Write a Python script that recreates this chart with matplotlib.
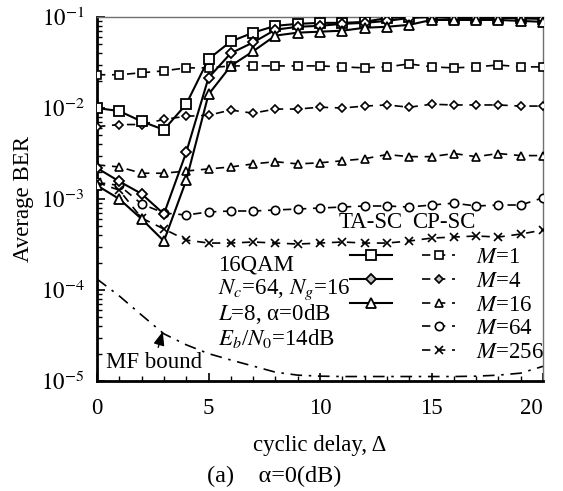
import matplotlib
matplotlib.use('Agg')
import matplotlib.pyplot as plt
from matplotlib.lines import Line2D
from matplotlib.ticker import FixedLocator, MultipleLocator, LogLocator, NullFormatter
import numpy as np

plt.rcParams['font.family'] = ['Liberation Serif', 'DejaVu Serif']
plt.rcParams['mathtext.fontset'] = 'stix'

# cyclic delay
delay = np.arange(0, 21)

# TA-SC (solid)
ta_m1 = [0.0100, 0.00925, 0.00712, 0.00577, 0.0110, 0.0345, 0.0538, 0.0673, 0.0800, 0.0841, 0.0862,
         0.0862, 0.0884, 0.0976, 0.100, 0.100, 0.098, 0.098, 0.098, 0.097, 0.096]
ta_m4 = [0.00219, 0.00156, 0.00114, 0.000684, 0.00325, 0.0215, 0.0400, 0.0525, 0.0725, 0.0781, 0.0800,
         0.0841, 0.0862, 0.0906, 0.0976, 0.100, 0.098, 0.098, 0.098, 0.097, 0.096]
ta_m16 = [0.00141, 0.00100, 0.000603, 0.000345, 0.00160, 0.0141, 0.0290, 0.0420, 0.0625, 0.0673, 0.0690,
          0.0707, 0.0762, 0.0781, 0.0820, 0.0928, 0.0928, 0.0928, 0.0928, 0.0906, 0.0884]

# CP-SC (dashed)
cp_m1 = [0.0232, 0.0232, 0.0244, 0.0256, 0.0276, 0.0276, 0.0290, 0.0290, 0.0290, 0.0290, 0.0290,
         0.0283, 0.0276, 0.0283, 0.0305, 0.0283, 0.0276, 0.0283, 0.0297, 0.0283, 0.0283]
cp_m4 = [0.00624, 0.00658, 0.00658, 0.00750, 0.00811, 0.00833, 0.00949, 0.00877, 0.00974, 0.00974, 0.0102,
         0.0100, 0.0105, 0.0108, 0.0102, 0.0110, 0.0108, 0.0108, 0.0108, 0.0105, 0.0105]
cp_m16 = [0.00237, 0.00225, 0.00192, 0.00192, 0.00203, 0.00214, 0.00225, 0.00243, 0.00257, 0.00243, 0.00250,
          0.00263, 0.00277, 0.00308, 0.00292, 0.00292, 0.00316, 0.00292, 0.00316, 0.00300, 0.00300]
cp_m64 = [0.00152, 0.00141, 0.000881, 0.000702, 0.000667, 0.000720, 0.000738, 0.000738, 0.000757, 0.000776,
          0.000796, 0.000816, 0.000838, 0.000838, 0.000816, 0.000859, 0.000900, 0.000838, 0.000859, 0.000859,
          0.00103]
cp_m256 = [0.00152, 0.00125, 0.000618, 0.000468, 0.000354, 0.000328, 0.000328, 0.000337, 0.000328, 0.000320,
           0.000328, 0.000337, 0.000328, 0.000328, 0.000345, 0.000372, 0.000382, 0.000392, 0.000382, 0.000412,
           0.000456]

# matched filter bound
mf_bound = [1.32e-4, 8.6e-5, 5.3e-5, 3.3e-5, 2.5e-5, 2.0e-5, 1.7e-5, 1.46e-5, 1.25e-5, 1.16e-5, 1.13e-5,
            1.12e-5, 1.12e-5, 1.12e-5, 1.12e-5, 1.12e-5, 1.12e-5, 1.13e-5, 1.16e-5, 1.22e-5, 1.45e-5]

m_labels = ['$M$=1', '$M$=4', '$M$=16', '$M$=64', '$M$=256']

W, H = 563, 491


def fpos(x, y):
    """pixel position -> figure fraction"""
    return x / W, 1 - y / H


fig = plt.figure(figsize=(W / 100, H / 100), dpi=100)
ax = fig.add_axes([97 / W, 1 - 381 / H, 446 / W, 364 / H])

FS = 16.5
FPX = FS * 100 / 72
ta_kw = dict(color='black', lw=1.5, mfc='white', mec='black', mew=1.3, zorder=4)
cp_kw = dict(color='black', lw=1.2, dashes=(5, 4), mfc='white', mec='black', mew=1.2, zorder=3)

ta_styles = [('s', 6.5), ('D', 5), ('^', 7)]
cp_styles = [('s', 6), ('D', 4), ('^', 6), ('o', 6), ('x', 5.5)]

for ys, (m, ms) in zip([ta_m1, ta_m4, ta_m16], ta_styles):
    ax.plot(delay, ys, marker=m, ms=ms, **ta_kw)
for ys, (m, ms) in zip([cp_m1, cp_m4, cp_m16, cp_m64, cp_m256], cp_styles):
    ax.plot(delay, ys, marker=m, ms=ms, **cp_kw)

ax.plot(delay, mf_bound, color='black', lw=1.2, linestyle=(0, (7, 4, 1.5, 4)), zorder=2)

ax.set_yscale('log')
ax.set_xlim(0, 20)
ax.set_ylim(1e-5, 1e-1)
ax.set_xticks([0, 5, 10, 15, 20])
ax.xaxis.set_minor_locator(MultipleLocator(1))
ax.yaxis.set_major_locator(FixedLocator([1e-5, 1e-4, 1e-3, 1e-2, 1e-1]))
ax.set_yticklabels([r'$10^{-5}$', r'$10^{-4}$', r'$10^{-3}$', r'$10^{-2}$', r'$10^{-1}$'])
ax.yaxis.set_minor_locator(LogLocator(base=10, subs=np.arange(2, 10)))
ax.yaxis.set_minor_formatter(NullFormatter())
ax.tick_params(which='both', direction='in', top=False, right=False, labelsize=FS)
ax.tick_params(which='major', length=6, width=1.2)
ax.tick_params(which='minor', length=3.5, width=1.0)
ax.tick_params(axis='x', pad=12)
ax.tick_params(axis='y', pad=9)
ax.xaxis.get_major_ticks()[-1].label1.set_horizontalalignment('right')

for s in ['left', 'bottom']:
    ax.spines[s].set_linewidth(2)
for s in ['top', 'right']:
    ax.spines[s].set_linewidth(1)
    ax.spines[s].set_color('#707070')

fig.text(*fpos(24, 199), 'Average BER', rotation=90, ha='center', va='center', fontsize=FS)
fig.text(*fpos(320, 451), 'cyclic delay, Δ', ha='center', va='baseline', fontsize=FS)
fig.text(*fpos(207, 482), '(a)    α=0(dB)', ha='left', va='baseline', fontsize=17.5)

# parameter block
info = ['16QAM', '$N_c$=64, $N_g$=16', '$L$=8, α=0dB', '$E_b$/$N_0$=14dB']
for i, line in enumerate(info):
    fig.text(*fpos(218, 265 + 24.5 * i), line, ha='left', va='center', fontsize=FS)

ax.annotate('MF bound', xy=(2.95, 3.5e-5), xycoords='data',
            xytext=fpos(154, 362), textcoords='figure fraction', ha='center', va='center', fontsize=FS,
            arrowprops=dict(arrowstyle='-|>,head_length=0.5,head_width=0.2', color='black', lw=1,
                            shrinkA=1, shrinkB=0))

# legend
fig.text(*fpos(371, 222), 'TA-SC', ha='center', va='center', fontsize=FS)
fig.text(*fpos(444, 222), 'CP-SC', ha='center', va='center', fontsize=FS)

ta_handles = [Line2D([], [], marker=m, ms=ms, **ta_kw) for m, ms in ta_styles]
ta_handles[1].set_markerfacecolor('#c0c0c0')
cp_handles = [Line2D([], [], marker=m, ms=ms, **cp_kw) for m, ms in cp_styles]
cp_handles[1].set_markerfacecolor('#c0c0c0')

leg1 = fig.legend(ta_handles, ['', '', ''], loc='upper left', bbox_to_anchor=fpos(350, 247),
                  frameon=False, fontsize=FS, handlelength=42 / FPX, borderpad=0, borderaxespad=0,
                  labelspacing=0.12, handletextpad=0)
leg2 = fig.legend(cp_handles, m_labels, loc='upper left', bbox_to_anchor=fpos(422, 247),
                  frameon=False, fontsize=FS, handlelength=33 / FPX, borderpad=0, borderaxespad=0,
                  labelspacing=0.12, handletextpad=0.9)

fig.savefig('out.png', dpi=100)
